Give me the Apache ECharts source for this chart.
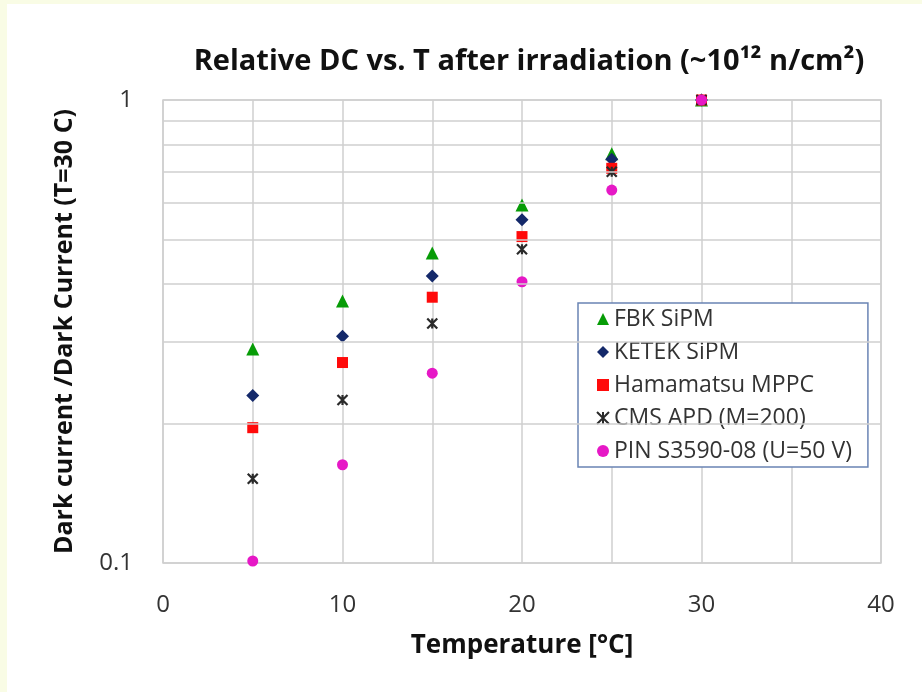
<!DOCTYPE html>
<html>
<head>
<meta charset="utf-8">
<script src="https://cdn.jsdelivr.net/npm/echarts@6/dist/echarts.min.js"></script>
<style>
html,body{margin:0;padding:0;background:#fff;}
#chart{width:922px;height:692px;}
</style>
</head>
<body>
<div id="chart"></div>
<script>
// ---- data ----
const temperatures = [5, 10, 15, 20, 25, 30];
const fbkSiPM = [0.290, 0.368, 0.467, 0.593, 0.765, 1];
const ketekSiPM = [0.230, 0.309, 0.417, 0.551, 0.745, 1];
const hamamatsuMPPC = [0.196, 0.271, 0.375, 0.507, 0.712, 1];
const cmsAPD = [0.152, 0.225, 0.329, 0.476, 0.700, 1];
const pinDiode = [0.101, 0.163, 0.257, 0.405, 0.639, 1];
const seriesNames = ['FBK SiPM', 'KETEK SiPM', 'Hamamatsu MPPC', 'CMS APD (M=200)', 'PIN S3590-08 (U=50 V)'];
const xTickLabels = [0, 10, 20, 30, 40];
const yTickLabels = [0.1, 1];
const yMinorGrid = [0.2, 0.3, 0.4, 0.5, 0.6, 0.7, 0.8, 0.9];

const FONT = '"Open Sans"';
const pair = arr => temperatures.map((t, i) => [t, arr[i]]);

const chart = echarts.init(document.getElementById('chart'), null, {renderer: 'canvas'});
const gridColor = '#cfcfcf';

const option = {
  backgroundColor: '#ffffff',
  animation: false,
  graphic: [
    {type: 'rect', shape: {x: 0, y: 0, width: 922, height: 4}, style: {fill: '#f9fce5'}, silent: true, z: -1},
    {type: 'rect', shape: {x: 0, y: 0, width: 7, height: 692}, style: {fill: '#f9fce5'}, silent: true, z: -1}
  ],
  title: {
    text: 'Relative DC vs. T after irradiation (~10¹² n/cm²)',
    left: 524, top: 42, textAlign: 'center',
    textStyle: {fontFamily: FONT, fontWeight: 'bold', fontSize: 29, color: '#111'}
  },
  grid: {left: 163, top: 100, right: 41, bottom: 129, show: true, borderColor: gridColor, borderWidth: 1.5, containLabel: false},
  xAxis: {
    type: 'value', min: 0, max: 40, interval: 5,
    name: 'Temperature [°C]', nameLocation: 'middle', nameGap: 70,
    nameTextStyle: {fontFamily: FONT, fontWeight: 'bold', fontSize: 26, color: '#111'},
    axisLine: {show: false}, axisTick: {show: false},
    axisLabel: {
      margin: 30, fontFamily: FONT, fontSize: 24, color: '#333',
      formatter: v => xTickLabels.indexOf(v) >= 0 ? String(v) : ''
    },
    splitLine: {show: true, lineStyle: {color: gridColor, width: 1.5}}
  },
  yAxis: {
    type: 'log', logBase: 10, min: 0.1, max: 1,
    name: 'Dark current /Dark Current (T=30 C)', nameLocation: 'middle', nameGap: 86,
    nameTextStyle: {fontFamily: FONT, fontWeight: 'bold', fontSize: 25, color: '#111'},
    axisLine: {show: false}, axisTick: {show: false},
    axisLabel: {
      margin: 30, fontFamily: FONT, fontSize: 24, color: '#333',
      formatter: v => {
        const m = yTickLabels.find(t => Math.abs(t - v) < 1e-9);
        return m !== undefined ? String(m) : '';
      }
    },
    splitLine: {show: true, lineStyle: {color: gridColor, width: 1.5}}
  },
  legend: {
    orient: 'vertical', left: 578, top: 303,
    padding: [4, 16, 4, 18], itemGap: 9, itemWidth: 12, itemHeight: 12,
    backgroundColor: '#fff', borderColor: '#6a84b4', borderWidth: 1.5,
    textStyle: {fontFamily: FONT, fontSize: 23, color: '#333', lineHeight: 24},
    data: seriesNames
  },
  series: [
    {
      name: '_grid', type: 'scatter', data: [], silent: true,
      markLine: {
        silent: true, symbol: 'none', label: {show: false},
        lineStyle: {color: gridColor, width: 1.5, type: 'solid'},
        data: yMinorGrid.map(v => ({yAxis: v}))
      }
    },
    {name: seriesNames[0], type: 'scatter', data: pair(fbkSiPM), symbol: 'triangle', symbolSize: 13,
     itemStyle: {color: '#079c07', opacity: 1}},
    {name: seriesNames[1], type: 'scatter', data: pair(ketekSiPM), symbol: 'diamond', symbolSize: 13,
     itemStyle: {color: '#14296a', opacity: 1}},
    {name: seriesNames[2], type: 'scatter', data: pair(hamamatsuMPPC), symbol: 'rect', symbolSize: 11,
     itemStyle: {color: '#ff0a0a', opacity: 1}},
    {name: seriesNames[3], type: 'scatter', data: pair(cmsAPD),
     symbol: 'path://M0,0L10,10M10,0L0,10M5,0L5,10', symbolSize: 10,
     itemStyle: {color: 'rgba(0,0,0,0)', borderColor: '#2a2a2a', borderWidth: 2.2, opacity: 1}},
    {name: seriesNames[4], type: 'scatter', data: pair(pinDiode), symbol: 'circle', symbolSize: 11,
     itemStyle: {color: '#e618c6', opacity: 1}}
  ]
};
chart.setOption(option);
</script>
</body>
</html>
